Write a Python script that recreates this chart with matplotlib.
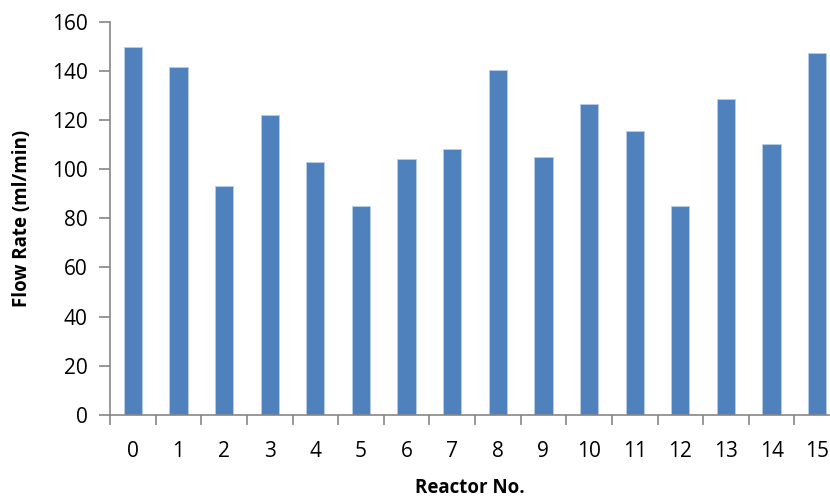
import matplotlib.pyplot as plt
import numpy as np

reactors = [str(i) for i in range(16)]
flow = [150, 141.5, 93, 122, 103, 85, 104, 108.3, 140.5, 105,
        126.4, 115.5, 85, 128.5, 110.2, 147.4]

plt.rcParams['font.family'] = ['Open Sans', 'DejaVu Sans']

fig = plt.figure(figsize=(8.3, 4.99), dpi=100)
ax = fig.add_axes([110 / 830, 84.3 / 499, 730 / 830, 392.7 / 499])

x = np.arange(len(reactors))
ax.bar(x, flow, width=0.4, color='#4F81BD', edgecolor='#B9CDE5', linewidth=0.6)

ax.set_xlim(-0.5, len(reactors) - 0.5)
ax.set_ylim(0, 160)
ax.set_yticks(np.arange(0, 161, 20))
ax.set_xticks(x)
ax.set_xticklabels(reactors)
ax.set_xticks(np.arange(-0.5, len(reactors)), minor=True)

gray = '#868686'
for s in ['top', 'right']:
    ax.spines[s].set_visible(False)
for s in ['left', 'bottom']:
    ax.spines[s].set_color(gray)
    ax.spines[s].set_linewidth(1.2)

ax.tick_params(axis='y', length=8, width=1.2, color=gray, labelsize=15, pad=8)
ax.tick_params(axis='x', which='major', length=0, labelsize=15, pad=19)
ax.tick_params(axis='x', which='minor', length=7, width=1.2, color=gray)

ax.set_ylabel('Flow Rate (ml/min)', fontsize=13.5, fontweight='bold')
ax.yaxis.set_label_coords(-(110 - 32) / 730, 0.5)
ax.set_xlabel('Reactor No.', fontsize=13.5, fontweight='bold')
ax.xaxis.set_label_coords((470 - 110) / 730, -(478 - 414.7) / 392.7)

fig.savefig('out.png', dpi=100)
